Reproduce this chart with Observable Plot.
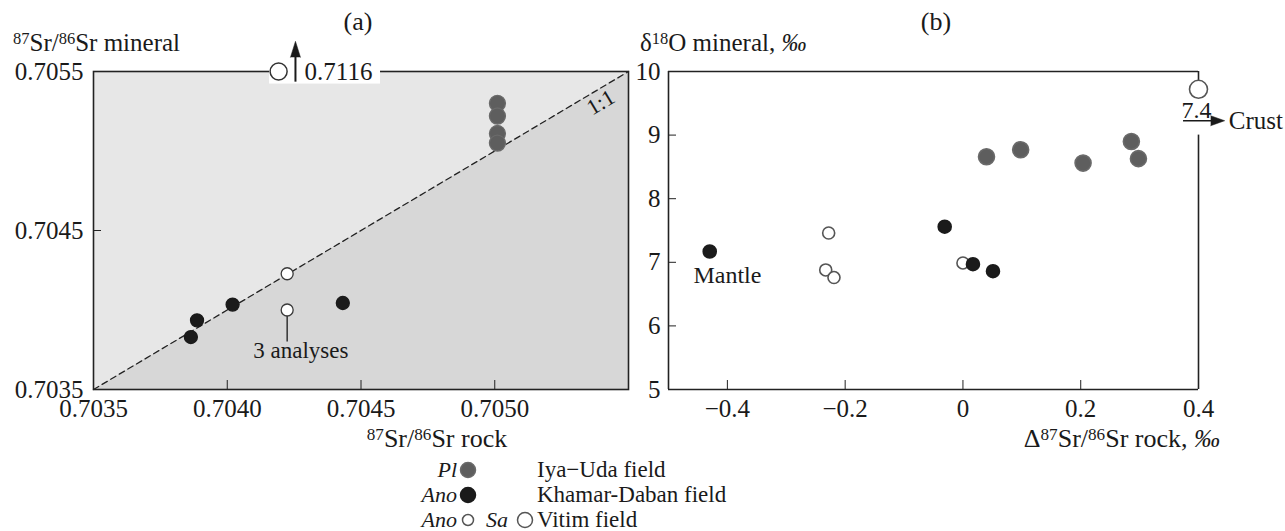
<!DOCTYPE html>
<html><head><meta charset="utf-8">
<script src="https://cdn.jsdelivr.net/npm/d3@7"></script>
<script src="https://cdn.jsdelivr.net/npm/@observablehq/plot@0.6"></script>
<style>
body{margin:0;background:#fff;}
#root{position:relative;width:1285px;height:531px;overflow:hidden;background:#fff;}
#root svg{position:absolute;overflow:visible;}
</style></head>
<body><div id="root"></div>
<script>
// ---------- Panel (a) data ----------
const A_DOMAIN = [0.7035, 0.7055];
const A_XTICKS = [0.7035, 0.7040, 0.7045, 0.7050];
const A_YTICKS = [0.7035, 0.7045, 0.7055];
const A_IYA_X = [0.70501, 0.70501, 0.70501, 0.70501];
const A_IYA_Y = [0.70530, 0.70522, 0.70511, 0.70505];
const A_KHAMAR_X = [0.703864, 0.703887, 0.704020, 0.704432];
const A_KHAMAR_Y = [0.703830, 0.703935, 0.704034, 0.704044];
const A_VITIM_ANO_X = [0.704224, 0.704224];
const A_VITIM_ANO_Y = [0.704228, 0.704000];
const A_VITIM_SA_X = [0.704192];
const A_VITIM_SA_Y = [0.7116];

// ---------- Panel (b) data ----------
const B_XDOMAIN = [-0.5, 0.4];
const B_YDOMAIN = [5, 10];
const B_XTICKS = [-0.4, -0.2, 0, 0.2, 0.4];
const B_YTICKS = [5, 6, 7, 8, 9, 10];
const B_IYA_X = [0.040, 0.098, 0.204, 0.286, 0.298];
const B_IYA_Y = [8.66, 8.77, 8.56, 8.90, 8.63];
const B_KHAMAR_X = [-0.43, -0.031, 0.017, 0.051];
const B_KHAMAR_Y = [7.17, 7.56, 6.97, 6.86];
const B_VITIM_ANO_X = [-0.228, -0.233, -0.219, 0.0];
const B_VITIM_ANO_Y = [7.46, 6.88, 6.76, 6.99];
const B_VITIM_SA_X = [7.4];
const B_VITIM_SA_Y = [9.72];

// ---------- Legend ----------
const LEGEND_LABELS = ["Iya−Uda field", "Khamar-Daban field", "Vitim field"];
const LEGEND_NAMES = [["Pl"], ["Ano"], ["Ano", "Sa"]];
const LEGEND_KINDS = [["iya"], ["khamar"], ["vitimAno", "vitimSa"]];

const FONT = '"Liberation Serif", "Times New Roman", serif';
const INK = "#1a1a1a";
const STYLE = {
  iya: {fill: "#5e5e5e", stroke: "#6a6a6a", r: 8},
  khamar: {fill: "#1b1b1b", stroke: "#1b1b1b", r: 6.5},
  vitimAno: {fill: "#ffffff", stroke: "#3a3a3a", r: 6},
  vitimSa: {fill: "#ffffff", stroke: "#3a3a3a", r: 8.5}
};
const zip = (xs, ys) => xs.map((x, i) => ({x, y: ys[i]}));
const root = document.getElementById("root");

// ===== Panel (a) =====
const diag = A_DOMAIN.map(v => ({v}));
const aSa = zip(A_VITIM_SA_X, A_VITIM_SA_Y).map(d => ({...d, py: Math.min(d.y, A_DOMAIN[1])}));
const dotA = (data, s, extra = {}) => Plot.dot(data, {x: "x", y: "y", r: s.r, fill: s.fill, stroke: s.stroke, strokeWidth: 1.3, ...extra});

const plotA = Plot.plot({
  width: 650, height: 460,
  marginLeft: 93, marginRight: 22, marginTop: 71, marginBottom: 71,
  style: {fontFamily: FONT, fontSize: "25px", color: INK, background: "transparent"},
  x: {domain: A_DOMAIN, label: null},
  y: {domain: A_DOMAIN, label: null},
  marks: [
    Plot.areaY(diag, {x: "v", y1: A_DOMAIN[0], y2: "v", fill: "#d7d7d7"}),
    Plot.areaY(diag, {x: "v", y1: "v", y2: A_DOMAIN[1], fill: "#e7e7e7"}),
    Plot.frame({stroke: "#222", strokeWidth: 1.6}),
    // white label box behind the off-scale value
    Plot.rect([{x1: 0.704158, x2: 0.704573, y1: 0.705421, y2: 0.70562}], {x1: "x1", x2: "x2", y1: "y1", y2: "y2", fill: "white"}),
    Plot.line(diag, {x: "v", y: "v", stroke: "#222", strokeWidth: 1.3, strokeDasharray: "6,4"}),
    Plot.text(["1:1"], {x: 0.705396, y: 0.705305, text: d => d, rotate: -30.8, fontSize: 22, fill: INK}),
    Plot.axisX(A_XTICKS, {label: null, tickSize: -9, tickPadding: 19, tickFormat: d3.format(".4f"), stroke: "#222", fontSize: 25}),
    Plot.axisY(A_YTICKS, {label: null, tickSize: -8, tickPadding: 18, tickFormat: d3.format(".4f"), stroke: "#222", fontSize: 25}),
    // "3 analyses" leader
    Plot.ruleX([A_VITIM_ANO_X[1]], {x: d => d, y1: 0.703799, y2: A_VITIM_ANO_Y[1], stroke: "#333", strokeWidth: 1.5}),
    Plot.text(["3 analyses"], {x: 0.704275, y: 0.703747, text: d => d, fontSize: 23, fill: INK}),
    dotA(zip(A_IYA_X, A_IYA_Y), STYLE.iya),
    dotA(zip(A_KHAMAR_X, A_KHAMAR_Y), STYLE.khamar),
    dotA(zip(A_VITIM_ANO_X, A_VITIM_ANO_Y), STYLE.vitimAno),
    // off-scale Sa point with arrow and its value
    Plot.ruleX(aSa, {x: 0.704255, y1: 0.705433, y2: 0.70562, stroke: INK, strokeWidth: 2}),
    Plot.vector(aSa, {x: 0.704255, y: 0.70569, length: 16, r: 5, rotate: 0, anchor: "end", shape: "spike", fill: INK, stroke: INK, strokeWidth: 0.5}),
    Plot.text(aSa, {x: 0.704289, y: "py", text: d => d.y.toFixed(4), textAnchor: "start", fontSize: 25, fill: INK}),
    Plot.dot(aSa, {x: "x", y: "py", r: STYLE.vitimSa.r, fill: "white", stroke: "#333", strokeWidth: 1.5})
  ]
});
plotA.style.left = "0px"; plotA.style.top = "0px";
root.appendChild(plotA);

// ===== Panel (b) =====
const bSa = zip(B_VITIM_SA_X, B_VITIM_SA_Y).map(d => ({...d, px: Math.min(d.x, B_XDOMAIN[1])}));
const dotB = (data, s, extra = {}) => Plot.dot(data, {x: "x", y: "y", r: s.r, fill: s.fill, stroke: s.stroke, strokeWidth: 1.6, ...extra});
const bFmt = d => d === 0 ? "0" : d3.format(".1f")(d);

const plotB = Plot.plot({
  width: 655, height: 460,
  marginLeft: 38, marginRight: 87, marginTop: 71, marginBottom: 71,
  style: {fontFamily: FONT, fontSize: "25px", color: INK, background: "transparent"},
  x: {domain: B_XDOMAIN, label: null},
  y: {domain: B_YDOMAIN, label: null},
  marks: [
    Plot.ruleX([B_XDOMAIN[0]], {x: d => d, y1: B_YDOMAIN[0], y2: B_YDOMAIN[1], stroke: "#222", strokeWidth: 1.6}),
    Plot.ruleY([B_YDOMAIN[0]], {y: d => d, x1: B_XDOMAIN[0], x2: B_XDOMAIN[1], stroke: "#222", strokeWidth: 1.6}),
    Plot.ruleY([B_YDOMAIN[1]], {y: d => d, x1: B_XDOMAIN[0], x2: B_XDOMAIN[1], stroke: "#222", strokeWidth: 1.6}),
    Plot.ruleX([B_XDOMAIN[1]], {x: d => d, y1: B_YDOMAIN[0], y2: 9.0, stroke: "#222", strokeWidth: 1.6}),
    Plot.ruleX([B_XDOMAIN[1]], {x: d => d, y1: B_VITIM_SA_Y[0], y2: B_YDOMAIN[1], stroke: "#222", strokeWidth: 1.6}),
    Plot.axisX(B_XTICKS, {label: null, tickSize: -9, tickPadding: 19, tickFormat: bFmt, stroke: "#222", fontSize: 25}),
    Plot.axisY(B_YTICKS, {label: null, tickSize: -8, tickPadding: 16, tickFormat: d => String(d), stroke: "#222", fontSize: 25}),
    dotB(zip(B_IYA_X, B_IYA_Y), STYLE.iya),
    dotB(zip(B_VITIM_ANO_X, B_VITIM_ANO_Y), STYLE.vitimAno, {stroke: "#555"}),
    dotB(zip(B_KHAMAR_X, B_KHAMAR_Y), STYLE.khamar),
    Plot.text(["Mantle"], {x: -0.40, y: 6.80, text: d => d, fontSize: 24, fill: INK}),
    // off-scale Sa point → crust
    Plot.dot(bSa, {x: "px", y: "y", r: 9, fill: "white", stroke: "#555", strokeWidth: 1.6}),
    Plot.text(bSa, {x: 0.3966, y: 9.273, text: d => String(d.x), lineAnchor: "bottom", fontSize: 24, fill: INK}),
    Plot.ruleY(bSa, {y: 9.226, x1: 0.3746, x2: 0.430, stroke: INK, strokeWidth: 1.6}),
    Plot.vector(bSa, {x: 0.4445, y: 9.226, length: 14, r: 5, rotate: 90, anchor: "end", shape: "spike", fill: INK, stroke: INK, strokeWidth: 0.5}),
    Plot.text(["Crust"], {x: 0.4513, y: 9.226, text: d => d, textAnchor: "start", fontSize: 25, fill: INK})
  ]
});
plotB.style.left = "630px"; plotB.style.top = "0px";
root.appendChild(plotB);

// ===== Titles + legend overlay =====
const ov = d3.select(root).append("svg")
  .attr("width", 1285).attr("height", 531)
  .style("left", "0px").style("top", "0px")
  .attr("font-family", FONT).attr("fill", INK);

function rich(parts, x, y, anchor, size) {
  const t = ov.append("text").attr("x", x).attr("y", y).attr("text-anchor", anchor).attr("font-size", size);
  parts.forEach(p => {
    const s = t.append("tspan").text(p.t);
    if (p.sup) s.attr("font-size", size * 0.66).attr("baseline-shift", "40%");
    if (p.it) s.attr("font-style", "italic");
  });
  return t;
}
rich([{t: "(a)"}], 358, 30, "middle", 26);
rich([{t: "(b)"}], 936, 30, "middle", 26);
rich([{t: "87", sup: 1}, {t: "Sr/"}, {t: "86", sup: 1}, {t: "Sr mineral"}], 13, 51, "start", 25);
rich([{t: "δ"}, {t: "18", sup: 1}, {t: "O mineral, "}, {t: "‰", it: 1}], 640, 51, "start", 25);
rich([{t: "87", sup: 1}, {t: "Sr/"}, {t: "86", sup: 1}, {t: "Sr rock"}], 437, 447, "middle", 26);
rich([{t: "Δ"}, {t: "87", sup: 1}, {t: "Sr/"}, {t: "86", sup: 1}, {t: "Sr rock, "}, {t: "‰", it: 1}], 1220, 447, "end", 26);

// legend
const rowY = [477, 502, 527];
const nameEnd = [457, 508];
const markerX = [468, 525];
LEGEND_LABELS.forEach((label, i) => {
  const y = rowY[i];
  LEGEND_NAMES[i].forEach((name, j) => {
    const kind = LEGEND_KINDS[i][j];
    const s = STYLE[kind];
    const r = kind === "vitimAno" ? 5.5 : 7.5;
    ov.append("text").attr("x", nameEnd[j]).attr("y", y).attr("text-anchor", "end")
      .attr("font-size", 22).attr("font-style", "italic").text(name);
    ov.append("circle").attr("cx", markerX[j]).attr("cy", y - 7).attr("r", r)
      .attr("fill", s.fill).attr("stroke", kind.startsWith("vitim") ? "#555" : s.stroke).attr("stroke-width", 1.5);
  });
  ov.append("text").attr("x", 537).attr("y", y).attr("font-size", 23).text(label);
});
</script>
</body></html>
